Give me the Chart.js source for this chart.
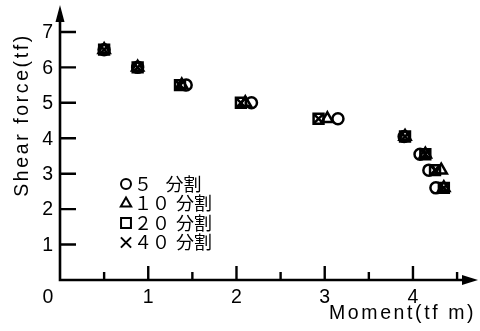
<!DOCTYPE html>
<html>
<head>
<meta charset="utf-8">
<script src="https://cdn.jsdelivr.net/npm/chart.js@4/dist/chart.umd.min.js"></script>
<style>
  html, body { margin: 0; padding: 0; background: #ffffff; }
  #wrap { width: 480px; height: 331px; }
</style>
</head>
<body>
<div id="wrap"><canvas id="c" width="480" height="331"></canvas></div>
<script>
// Shear force (tf) at each section, shared by every mesh
const shearForce = [6.5, 6.0, 5.5, 5.0, 4.55, 4.05, 3.55, 3.1, 2.6];
// Moment (tf·m) for each mesh division
const moment5  = [0.50, 0.88, 1.43, 2.17, 3.15, 3.90, 4.08, 4.18, 4.26];
const moment10 = [0.50, 0.88, 1.38, 2.10, 3.03, 3.91, 4.14, 4.32, 4.35];
const moment20 = [0.50, 0.88, 1.36, 2.05, 2.93, 3.91, 4.14, 4.25, 4.35];
const moment40 = [0.50, 0.88, 1.36, 2.05, 2.93, 3.91, 4.14, 4.25, 4.35];

const seriesLabels = ['５\u2002\u2005分割', '１０\u2004分割', '２０\u2004分割', '４０\u2004分割'];
const xTicks = [1, 2, 3, 4];
const xMinorTicks = [0.5, 1.5, 2.5, 3.5, 4.5];
const yTicks = [1, 2, 3, 4, 5, 6, 7];
const xTitle = 'Moment(tf m)';
const yTitle = 'Shear force(tf)';

function pairs(xs, ys) { return xs.map((v, i) => ({ x: v, y: ys[i] })); }

const markerStyles = [
  { pointStyle: 'circle',   radius: 5.5 },
  { pointStyle: 'triangle', radius: 6.5 },
  { pointStyle: 'rect',     radius: 7 },
  { pointStyle: 'crossRot', radius: 7 }
];
const momentSeries = [moment5, moment10, moment20, moment40];

const datasets = momentSeries.map((m, i) => ({
  label: seriesLabels[i],
  data: pairs(m, shearForce),
  showLine: false,
  pointStyle: markerStyles[i].pointStyle,
  pointRadius: markerStyles[i].radius,
  pointHoverRadius: markerStyles[i].radius,
  pointBorderWidth: 2.5,
  borderColor: '#000',
  pointBorderColor: '#000',
  pointBackgroundColor: 'rgba(0,0,0,0)',
  clip: false
}));

const SANS = '"Liberation Sans", Arial, Helvetica, sans-serif';
const CJK = '"Noto Sans CJK JP", "Noto Sans", sans-serif';

// Axes with arrowheads, inward ticks, labels and the in-plot legend
const axesPlugin = {
  id: 'arrowAxes',
  beforeDatasetsDraw(chart) {
    const { ctx, scales: { x, y } } = chart;
    const ox = x.getPixelForValue(0);
    const oy = y.getPixelForValue(0);
    const xEnd = x.right;
    const yEnd = y.top;
    ctx.save();
    ctx.strokeStyle = '#000';
    ctx.fillStyle = '#000';
    ctx.lineCap = 'butt';

    // axis lines
    ctx.lineWidth = 2.6;
    ctx.beginPath();
    ctx.moveTo(ox, oy + 1.3);
    ctx.lineTo(ox, yEnd + 12);
    ctx.moveTo(ox - 1.3, oy);
    ctx.lineTo(xEnd - 12, oy);
    ctx.stroke();

    // arrowheads
    ctx.beginPath();
    ctx.moveTo(ox, yEnd);
    ctx.lineTo(ox - 4.5, yEnd + 17);
    ctx.lineTo(ox + 4.5, yEnd + 17);
    ctx.closePath();
    ctx.fill();
    ctx.beginPath();
    ctx.moveTo(xEnd, oy);
    ctx.lineTo(xEnd - 16, oy - 5);
    ctx.lineTo(xEnd - 16, oy + 5);
    ctx.closePath();
    ctx.fill();

    // y ticks pointing into the plot
    ctx.lineWidth = 2.4;
    ctx.beginPath();
    yTicks.forEach(v => {
      const py = y.getPixelForValue(v);
      ctx.moveTo(ox, py);
      ctx.lineTo(ox + 16, py);
    });
    // x major and minor ticks
    xTicks.forEach(v => {
      const px = x.getPixelForValue(v);
      ctx.moveTo(px, oy);
      ctx.lineTo(px, oy - 14);
    });
    xMinorTicks.forEach(v => {
      const px = x.getPixelForValue(v);
      ctx.moveTo(px, oy);
      ctx.lineTo(px, oy - 8);
    });
    ctx.stroke();
    ctx.restore();
  },
  afterDraw(chart) {
    const { ctx, scales: { x, y } } = chart;
    const ox = x.getPixelForValue(0);
    const oy = y.getPixelForValue(0);
    ctx.save();
    ctx.fillStyle = '#000';

    // tick labels
    ctx.font = '19.5px ' + SANS;
    ctx.textAlign = 'right';
    ctx.textBaseline = 'middle';
    yTicks.forEach(v => ctx.fillText(String(v), ox - 7, y.getPixelForValue(v) + 1));
    ctx.textAlign = 'center';
    ctx.textBaseline = 'top';
    xTicks.forEach(v => ctx.fillText(String(v), x.getPixelForValue(v), oy + 8));
    ctx.fillText('0', ox - 12, oy + 8);

    // axis titles
    ctx.font = '19.5px ' + SANS;
    if ('letterSpacing' in ctx) ctx.letterSpacing = '2.6px';
    ctx.textAlign = 'left';
    ctx.textBaseline = 'alphabetic';
    ctx.fillText(xTitle, 329, 319);
    ctx.save();
    ctx.translate(27.5, 115);
    ctx.rotate(-Math.PI / 2);
    ctx.textAlign = 'center';
    ctx.fillText(yTitle, 0, 0);
    ctx.restore();
    if ('letterSpacing' in ctx) ctx.letterSpacing = '0px';

    // legend
    const rowY = [184, 203.5, 223, 242.5];
    const legendSizes = [5, 6, 7, 7.2];
    chart.data.datasets.forEach((ds, i) => {
      ctx.strokeStyle = '#000';
      ctx.fillStyle = 'rgba(0,0,0,0)';
      ctx.lineWidth = 2;
      Chart.helpers.drawPoint(ctx, {
        pointStyle: ds.pointStyle,
        radius: legendSizes[i],
        rotation: 0,
        borderWidth: 2
      }, 126, rowY[i]);
      ctx.font = '18px ' + CJK;
      ctx.textAlign = 'left';
      ctx.textBaseline = 'middle';
      ctx.fillStyle = '#000';
      ctx.fillText(ds.label, 134, rowY[i]);
    });
    ctx.restore();
  }
};

new Chart(document.getElementById('c'), {
  type: 'scatter',
  data: { datasets },
  options: {
    responsive: false,
    animation: false,
    devicePixelRatio: 1,
    layout: { autoPadding: false, padding: { left: 60, right: 2, top: 5, bottom: 51 } },
    plugins: { legend: { display: false }, tooltip: { enabled: false } },
    scales: {
      x: { type: 'linear', min: 0, max: 4.737, display: false },
      y: { type: 'linear', min: 0, max: 7.76, display: false }
    }
  },
  plugins: [axesPlugin]
});
</script>
</body>
</html>
